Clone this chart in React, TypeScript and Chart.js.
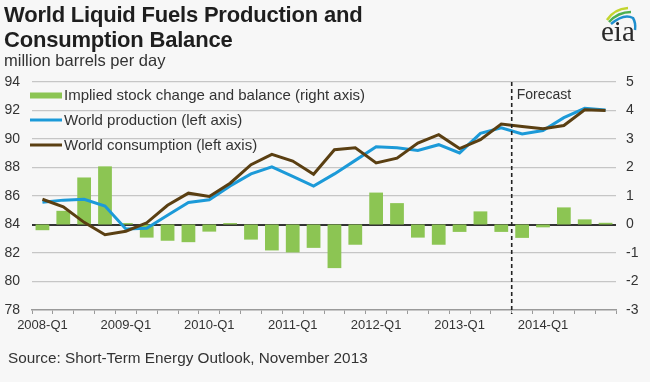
import React, { useEffect, useRef } from "react";
import { Chart, registerables } from "chart.js";

Chart.register(...registerables);

const categories = [
  "2008-Q1", "2008-Q2", "2008-Q3", "2008-Q4",
  "2009-Q1", "2009-Q2", "2009-Q3", "2009-Q4",
  "2010-Q1", "2010-Q2", "2010-Q3", "2010-Q4",
  "2011-Q1", "2011-Q2", "2011-Q3", "2011-Q4",
  "2012-Q1", "2012-Q2", "2012-Q3", "2012-Q4",
  "2013-Q1", "2013-Q2", "2013-Q3", "2013-Q4",
  "2014-Q1", "2014-Q2", "2014-Q3", "2014-Q4",
];

const stockChange = [
  -0.2, 0.48, 1.65, 2.04, 0.05, -0.46, -0.57, -0.62,
  -0.25, 0.05, -0.53, -0.91, -0.98, -0.82, -1.53, -0.71,
  1.12, 0.75, -0.46, -0.71, -0.26, 0.46, -0.26, -0.47,
  -0.1, 0.6, 0.18, 0.06,
];

const production = [
  85.56, 85.71, 85.77, 85.3, 83.68, 83.74, 84.65, 85.55,
  85.73, 86.71, 87.55, 88.05, 87.38, 86.7, 87.55, 88.5,
  89.45, 89.38, 89.2, 89.6, 89.02, 90.4, 90.78, 90.36,
  90.6, 91.5, 92.15, 92.03,
];

const consumption = [
  85.77, 85.24, 84.15, 83.28, 83.53, 84.12, 85.35, 86.2,
  85.97, 86.9, 88.2, 88.92, 88.45, 87.53, 89.25, 89.38,
  88.32, 88.66, 89.72, 90.3, 89.33, 89.95, 91.05, 90.88,
  90.72, 90.95, 92.05, 92.0,
];

const seriesNames = [
  "Implied stock change and balance (right axis)",
  "World production (left axis)",
  "World consumption (left axis)",
];

const leftRange = [78, 94];
const rightRange = [-3, 5];
const forecastStartIndex = 23;
const forecastLabel = "Forecast";

const GREEN = "#8cc553";
const BLUE = "#1c9ad8";
const BROWN = "#5a3f12";
const FONT = "'Liberation Sans', Arial, sans-serif";

const overlayPlugin = {
  id: "overlay",
  afterDatasetsDraw(chart: any) {
    const { ctx, chartArea, scales } = chart;
    const x = scales.x;
    ctx.save();
    const fx = (x.getPixelForValue(forecastStartIndex - 1) + x.getPixelForValue(forecastStartIndex)) / 2;
    ctx.strokeStyle = "#222";
    ctx.lineWidth = 1.6;
    ctx.setLineDash([4, 3]);
    ctx.beginPath();
    ctx.moveTo(fx, chartArea.top);
    ctx.lineTo(fx, chartArea.bottom + 4);
    ctx.stroke();
    ctx.setLineDash([]);
    ctx.fillStyle = "#333";
    ctx.font = `14px ${FONT}`;
    ctx.textBaseline = "middle";
    ctx.textAlign = "left";
    ctx.fillText(forecastLabel, fx + 5, chartArea.top + 13.5);

    const lx = chartArea.left - 2;
    const rows = [chartArea.top + 13.5, chartArea.top + 38, chartArea.top + 63];
    ctx.fillStyle = GREEN;
    ctx.fillRect(lx, rows[0] - 3, 32, 6);
    ctx.lineWidth = 3;
    ctx.strokeStyle = BLUE;
    ctx.beginPath();
    ctx.moveTo(lx, rows[1]);
    ctx.lineTo(lx + 32, rows[1]);
    ctx.stroke();
    ctx.strokeStyle = BROWN;
    ctx.beginPath();
    ctx.moveTo(lx, rows[2]);
    ctx.lineTo(lx + 32, rows[2]);
    ctx.stroke();
    ctx.fillStyle = "#333";
    ctx.font = `15px ${FONT}`;
    seriesNames.forEach((n, i) => ctx.fillText(n, lx + 34, rows[i] + 0.5));
    ctx.restore();
  },
};

export default function App() {
  const ref = useRef<HTMLCanvasElement | null>(null);

  useEffect(() => {
    if (!ref.current) return;
    const chart = new Chart(ref.current, {
      type: "bar",
      data: {
        labels: categories,
        datasets: [
          {
            type: "line",
            label: seriesNames[2],
            data: consumption,
            yAxisID: "yL",
            borderColor: BROWN,
            borderWidth: 3,
            pointRadius: 0,
            tension: 0,
            order: 1,
          } as any,
          {
            type: "line",
            label: seriesNames[1],
            data: production,
            yAxisID: "yL",
            borderColor: BLUE,
            borderWidth: 3,
            pointRadius: 0,
            tension: 0,
            order: 2,
          } as any,
          {
            type: "bar",
            label: seriesNames[0],
            data: stockChange,
            yAxisID: "yR",
            backgroundColor: GREEN,
            barPercentage: 0.66,
            categoryPercentage: 1,
            order: 3,
          } as any,
        ],
      },
      options: {
        responsive: false,
        animation: false,
        devicePixelRatio: 1,
        layout: { padding: { top: 82, bottom: 42, left: 0, right: 0 } },
        plugins: { legend: { display: false }, tooltip: { enabled: false } },
        scales: {
          x: {
            type: "category",
            offset: true,
            grid: {
              display: true,
              drawOnChartArea: false,
              drawTicks: true,
              tickLength: 4,
              color: "#9a9a9a",
              offset: true,
            },
            border: { display: true, color: "#9a9a9a", width: 1.5 },
            ticks: {
              autoSkip: false,
              maxRotation: 0,
              minRotation: 0,
              padding: 4,
              color: "#333",
              font: { size: 13, family: FONT },
              callback: (_v: any, i: number) => (i % 4 === 0 ? categories[i] : ""),
            },
            afterFit: (s: any) => {
              s.height = 30;
            },
          },
          yL: {
            position: "left",
            min: leftRange[0],
            max: leftRange[1],
            ticks: {
              stepSize: 2,
              padding: 12,
              color: "#333",
              font: { size: 14, family: FONT },
            },
            grid: {
              drawTicks: false,
              color: (c: any) =>
                c.tick.value === 84 ? "#333" : c.tick.value === leftRange[0] ? "rgba(0,0,0,0)" : "#c6c6c6",
              lineWidth: (c: any) => (c.tick.value === 84 ? 2 : 1.2),
            },
            border: { display: false },
            afterFit: (s: any) => {
              s.width = 32;
            },
          },
          yR: {
            position: "right",
            min: rightRange[0],
            max: rightRange[1],
            ticks: {
              stepSize: 1,
              padding: 10,
              color: "#333",
              font: { size: 14, family: FONT },
            },
            grid: { display: false, drawTicks: false },
            border: { display: false },
            afterFit: (s: any) => {
              s.width = 34;
            },
          },
        },
      } as any,
      plugins: [overlayPlugin],
    });
    return () => chart.destroy();
  }, []);

  return (
    <div
      style={{
        position: "fixed",
        left: 0,
        top: 0,
        width: 650,
        height: 382,
        background: "#f7f7f7",
        overflow: "hidden",
        fontFamily: FONT,
        color: "#222",
      }}
    >
      <canvas ref={ref} width={650} height={382} style={{ position: "absolute", left: 0, top: 0 }} />
      <div
        style={{
          position: "absolute",
          left: 4,
          top: 2,
          fontSize: 22,
          fontWeight: "bold",
          lineHeight: "25px",
          letterSpacing: -0.2,
          color: "#1e1e1e",
          whiteSpace: "nowrap",
        }}
      >
        World Liquid Fuels Production and
        <br />
        Consumption Balance
      </div>
      <div
        style={{
          position: "absolute",
          left: 4,
          top: 51,
          fontSize: 16.5,
          lineHeight: "18px",
          color: "#333",
          whiteSpace: "nowrap",
        }}
      >
        million barrels per day
      </div>
      <div
        style={{
          position: "absolute",
          left: 8,
          top: 349,
          fontSize: 15.3,
          lineHeight: "17px",
          color: "#333",
          whiteSpace: "nowrap",
        }}
      >
        Source: Short-Term Energy Outlook, November 2013
      </div>
      <svg
        width={50}
        height={40}
        viewBox="600 0 50 40"
        style={{ position: "absolute", left: 600, top: 0 }}
      >
        <path d="M607 20 Q614 9 628 8" stroke="#c3d52f" strokeWidth={2.5} fill="none" />
        <path d="M609 22 Q618 12 631 12" stroke="#4caf50" strokeWidth={2.5} fill="none" />
        <path d="M611 24 Q624 13 633 18 Q636 23 635 30" stroke="#1f8fce" strokeWidth={2.5} fill="none" />
      </svg>
      <div
        style={{
          position: "absolute",
          left: 601,
          top: 16,
          fontSize: 29,
          lineHeight: "30px",
          fontFamily: "'Liberation Serif', 'DejaVu Serif', serif",
          color: "#2a2a2a",
        }}
      >
        eia
      </div>
    </div>
  );
}
